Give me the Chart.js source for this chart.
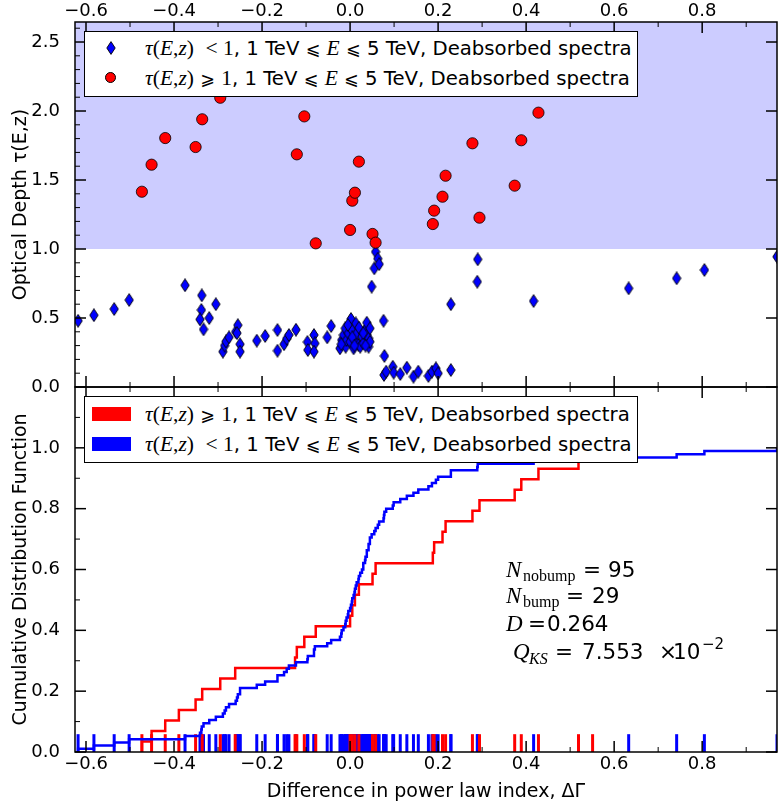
<!DOCTYPE html>
<html>
<head>
<meta charset="utf-8">
<script src="https://cdn.jsdelivr.net/npm/chart.js@4"></script>
<style>
body{margin:0;background:#fff;width:778px;height:808px;position:relative;overflow:hidden;font-family:"DejaVu Sans",sans-serif;color:#000;}
canvas.chart{position:absolute;left:0;}
#tauChart{top:0;}
#cdfChart{top:380px;}
.legend{position:absolute;left:84px;width:552px;background:#fff;border:1.5px solid #000;font-size:19.7px;white-space:nowrap;}
.legend .row{position:absolute;left:0;height:24px;line-height:24px;}
.legend .txt{position:absolute;left:60px;top:0;}
.m{font-family:"Liberation Serif",serif;font-style:italic;font-size:21.5px;}
.r{font-family:"Liberation Serif",serif;font-style:normal;font-size:21.5px;}
.sym{font-family:"DejaVu Sans",sans-serif;font-size:17.5px;}
.n{position:absolute;white-space:nowrap;line-height:1;}
.ns{font-family:"DejaVu Sans",sans-serif;font-size:21.5px;}
.nm{font-family:"Liberation Serif",serif;font-style:italic;font-size:23px;}
.nb{font-family:"Liberation Serif",serif;font-size:16px;}
</style>
</head>
<body>
<canvas id="tauChart" class="chart" width="778" height="400"></canvas>
<canvas id="cdfChart" class="chart" width="778" height="428"></canvas>
<div id="tauLegend" class="legend" style="top:31px;height:64px;"></div>
<div id="cdfLegend" class="legend" style="top:396px;height:65px;"></div>
<!-- KS test summary -->
<span class="n nm" style="left:506px;top:558px">N</span><span class="n nb" style="left:523px;top:568px">nobump</span><span class="n ns" style="left:583px;top:559px">=</span><span class="n ns" style="left:608px;top:559px">95</span>
<span class="n nm" style="left:506px;top:584px">N</span><span class="n nb" style="left:523px;top:594px">bump</span><span class="n ns" style="left:566px;top:585px">=</span><span class="n ns" style="left:592px;top:585px">29</span>
<span class="n nm" style="left:506px;top:612px">D</span><span class="n ns" style="left:528px;top:613px">=</span><span class="n ns" style="left:547px;top:613px">0.264</span>
<span class="n nm" style="left:513px;top:640px">Q</span><span class="n nb" style="left:529px;top:651px;font-style:italic">KS</span><span class="n ns" style="left:555px;top:641px">=</span><span class="n ns" style="left:582px;top:641px">7.553</span><span class="n ns" style="left:659px;top:641px">×</span><span class="n ns" style="left:673px;top:641px">10</span><span class="n ns" style="left:702px;top:637px;font-size:15px">−2</span>
<script>
/* ---------- DATA ---------- */
// tau(E,z) < 1 sources
const blueDeltaGamma=[-0.618,-0.582,-0.536,-0.502,-0.375,-0.337,-0.338,-0.341,-0.320,-0.333,-0.305,
  -0.289,-0.285,-0.282,-0.275,-0.260,-0.255,-0.257,-0.250,-0.250,
  -0.212,-0.193,-0.165,-0.165,-0.150,-0.144,-0.139,-0.123,-0.097,-0.096,-0.082,-0.080,-0.082,-0.052,-0.043,
  -0.023,-0.019,-0.015,-0.011,-0.010,-0.008,-0.004,0.000,0.002,0.004,0.008,0.011,0.013,0.015,0.019,0.023,
  0.027,0.030,0.034,0.038,0.038,0.042,0.042,0.045,0.045,-0.020,-0.005,0.005,0.020,0.030,0.010,0.035,
  0.049,0.055,0.058,0.063,0.066,0.076,0.078,
  0.077,0.082,0.097,0.099,0.114,0.129,0.144,0.155,0.178,0.186,0.195,0.200,0.229,
  0.229,0.289,0.290,0.417,0.633,0.742,0.805,0.970];
const blueTau=[0.48,0.52,0.565,0.63,0.737,0.664,0.558,0.49,0.50,0.418,0.60,
  0.256,0.30,0.33,0.36,0.40,0.448,0.39,0.31,0.256,
  0.336,0.37,0.413,0.263,0.31,0.35,0.377,0.415,0.326,0.268,0.377,0.316,0.256,0.36,0.442,
  0.28,0.34,0.377,0.425,0.292,0.34,0.389,0.328,0.493,0.413,0.28,0.34,0.461,0.389,0.304,0.292,
  0.365,0.316,0.413,0.466,0.377,0.292,0.353,0.425,0.328,0.31,0.45,0.36,0.43,0.39,0.30,0.30,
  0.727,0.86,0.98,0.93,0.89,0.48,0.225,
  0.087,0.111,0.147,0.104,0.094,0.14,0.075,0.111,0.08,0.111,0.135,0.099,0.123,
  0.60,0.763,0.925,0.623,0.715,0.788,0.848,0.944];
// tau(E,z) >= 1 sources
const redDeltaGamma=[-0.473,-0.451,-0.420,-0.389,-0.351,-0.336,-0.295,-0.261,-0.125,-0.121,-0.104,-0.078,
  0.000,0.005,0.011,0.020,0.051,0.058,0.188,0.191,0.210,0.217,0.278,0.294,0.374,0.389,0.428,0.519,0.551];
const redTau=[1.415,1.611,1.804,2.30,1.739,1.94,2.096,2.42,2.25,1.686,1.961,1.041,
  1.138,1.35,1.408,1.633,1.109,1.046,1.181,1.278,1.379,1.531,1.766,1.227,1.459,1.788,1.988,2.35,2.20];

const xMajorTicks=[-0.6,-0.4,-0.2,0.0,0.2,0.4,0.6,0.8];
const xMinorTicks=[-0.5,-0.3,-0.1,0.1,0.3,0.5,0.7,0.9];
const tauMajorTicks=[0.0,0.5,1.0,1.5,2.0,2.5];
const tauMinorTicks=[0.1,0.2,0.3,0.4,0.6,0.7,0.8,0.9,1.1,1.2,1.3,1.4,1.6,1.7,1.8,1.9,2.1,2.2,2.3,2.4,2.6];
const cdfMajorTicks=[0.0,0.2,0.4,0.6,0.8,1.0];
const cdfMinorTicks=[0.1,0.3,0.5,0.7,0.9,1.1];

const X_MIN=-0.625, X_MAX=0.97, TAU_MAX=2.645, CDF_MAX=1.2, TAU_CUT=1.0, RUG_MID=0.029;

/* ---------- HELPERS ---------- */
Chart.defaults.font.family='"DejaVu Sans", sans-serif';
Chart.defaults.font.size=18;
Chart.defaults.color='#000';
Chart.defaults.animation=false;

const fmt=v=>(v<0?'\u2212':'')+Math.abs(v).toFixed(1);
const pts=(xs,ys)=>xs.map((x,i)=>({x,y:ys[i]}));
function ecdf(values){const s=[...values].sort((a,b)=>a-b);const n=s.length;
  return [{x:s[0],y:0}].concat(s.map((v,i)=>({x:v,y:(i+1)/n})));}
function makeDiamond(){const c=document.createElement('canvas');c.width=10;c.height=14;
  const g=c.getContext('2d');g.beginPath();g.moveTo(5,0.6);g.lineTo(9.2,7);g.lineTo(5,13.4);g.lineTo(0.8,7);g.closePath();
  g.fillStyle='#0000ff';g.fill();g.lineWidth=0.9;g.strokeStyle='#000';g.stroke();return c;}

// shaded tau >= 1 band
const tauBand={id:'tauBand',beforeDatasetsDraw(chart,args,o){
  if(o.from===undefined)return;const {ctx,chartArea:a,scales:{y}}=chart;const p=y.getPixelForValue(o.from);
  ctx.save();ctx.fillStyle=o.color;ctx.fillRect(a.left,a.top,a.width,p-a.top);ctx.restore();}};

// matplotlib style frame with inward ticks
const frameTicks={id:'frameTicks',afterDatasetsDraw(chart,args,o){
  const {ctx,chartArea:a,scales:{x,y}}=chart;ctx.save();ctx.strokeStyle='#000';
  const t=(px,py,dx,dy,w)=>{ctx.lineWidth=w;ctx.beginPath();ctx.moveTo(px,py);ctx.lineTo(px+dx,py+dy);ctx.stroke();};
  o.xMajor.forEach(v=>{const p=x.getPixelForValue(v);t(p,a.top,0,11,1.5);t(p,a.bottom,0,-11,1.5);});
  o.xMinor.forEach(v=>{const p=x.getPixelForValue(v);if(p>a.right)return;t(p,a.top,0,5,1);t(p,a.bottom,0,-5,1);});
  o.yMajor.forEach(v=>{const p=y.getPixelForValue(v);t(a.left,p,11,0,1.5);t(a.right,p,-11,0,1.5);});
  o.yMinor.forEach(v=>{const p=y.getPixelForValue(v);if(p<a.top)return;t(a.left,p,5,0,1);});
  ctx.lineWidth=1.5;ctx.strokeRect(a.left,a.top,a.width,a.height);ctx.restore();}};

function xAxis(position,height,pad,title){return{type:'linear',position,min:X_MIN,max:X_MAX,
  grid:{display:false},border:{display:false},
  afterFit:s=>{s.height=height;s.paddingLeft=0;s.paddingRight=0;},
  afterBuildTicks:s=>{s.ticks=xMajorTicks.map(v=>({value:v}));},
  ticks:{padding:pad,maxRotation:0,autoSkip:false,callback:v=>fmt(v)},
  title:title?{display:true,text:title,font:{size:19},padding:{top:0,bottom:5}}:{display:false}};}
function yAxis(max,ticks,title){return{type:'linear',position:'left',min:0,max,
  grid:{display:false},border:{display:false},
  afterFit:s=>{s.width=75;s.paddingTop=0;s.paddingBottom=0;},
  afterBuildTicks:s=>{s.ticks=ticks.map(v=>({value:v}));},
  ticks:{padding:7,autoSkip:false,callback:v=>v.toFixed(1)},
  title:{display:true,text:title,font:{size:19},padding:{top:10,bottom:0}}};}

/* ---------- TOP PANEL ---------- */
new Chart(document.getElementById('tauChart'),{type:'scatter',
  data:{datasets:[
    {label:'tau<1',data:pts(blueDeltaGamma,blueTau),pointStyle:makeDiamond(),pointRadius:6,order:1},
    {label:'tau>=1',data:pts(redDeltaGamma,redTau),pointStyle:'circle',pointRadius:5.6,
      backgroundColor:'#ff0000',borderColor:'#000',borderWidth:0.8,order:0}]},
  options:{responsive:false,events:[],layout:{autoPadding:false,padding:{top:0,right:1,bottom:13,left:0}},
    scales:{x:xAxis('top',22,-8),y:yAxis(TAU_MAX,tauMajorTicks,'Optical Depth \u03c4(E,z)')},
    plugins:{legend:{display:false},tooltip:{enabled:false},
      tauBand:{from:TAU_CUT,color:'#ccccff'},
      frameTicks:{xMajor:xMajorTicks,xMinor:xMinorTicks,yMajor:tauMajorTicks,yMinor:tauMinorTicks}}},
  plugins:[tauBand,frameTicks]});

/* ---------- BOTTOM PANEL ---------- */
new Chart(document.getElementById('cdfChart'),{type:'scatter',
  data:{datasets:[
    {label:'cdf blue',data:ecdf(blueDeltaGamma),showLine:true,stepped:'before',borderColor:'#0000ff',borderWidth:2.5,pointRadius:0,order:0},
    {label:'cdf red',data:ecdf(redDeltaGamma),showLine:true,stepped:'before',borderColor:'#ff0000',borderWidth:2.5,pointRadius:0,order:1},
    {label:'rug red',data:redDeltaGamma.map(x=>({x,y:RUG_MID})),pointStyle:'line',rotation:90,pointRadius:9,borderColor:'#ff0000',borderWidth:3,order:2},
    {label:'rug blue',data:blueDeltaGamma.map(x=>({x,y:RUG_MID})),pointStyle:'line',rotation:90,pointRadius:9,borderColor:'#0000ff',borderWidth:3,order:3}]},
  options:{responsive:false,events:[],layout:{autoPadding:false,padding:{top:7,right:1,bottom:0,left:0}},
    scales:{x:xAxis('bottom',56,-6,'Difference in power law index, \u0394\u0393'),
      y:yAxis(CDF_MAX,cdfMajorTicks,'Cumulative Distribution Function')},
    plugins:{legend:{display:false},tooltip:{enabled:false},
      frameTicks:{xMajor:xMajorTicks,xMinor:xMinorTicks,yMajor:cdfMajorTicks,yMinor:cdfMinorTicks}}},
  plugins:[frameTicks]});

/* ---------- LEGENDS ---------- */
const tauLt='<span class="m">\u03c4</span><span class="r">(</span><span class="m">E</span><span class="r">,</span><span class="m">z</span><span class="r">)</span>';
const energy=', 1 TeV <span class="sym">\u2a7d</span> <span class="m">E</span> <span class="sym">\u2a7d</span> 5 TeV, Deabsorbed spectra';
const lowLabel=tauLt+' <span class="r">&nbsp;&lt; 1</span>'+energy;
const highLabel=tauLt+' <span class="sym">\u2a7e</span> <span class="r">1</span>'+energy;

const tl=document.getElementById('tauLegend');
tl.innerHTML=`<div class="row" style="top:4px;width:100%"><span class="txt">${lowLabel}</span></div>
<div class="row" style="top:34px;width:100%"><div style="position:absolute;left:20px;top:6px;width:11px;height:11px;border-radius:50%;background:#ff0000;border:0.8px solid #000;box-sizing:border-box"></div><span class="txt">${highLabel}</span></div>`;
const dm=makeDiamond();dm.style.cssText='position:absolute;left:21px;top:5px;';tl.firstElementChild.appendChild(dm);

const cl=document.getElementById('cdfLegend');
cl.innerHTML=`<div class="row" style="top:5px;width:100%"><div style="position:absolute;left:7px;top:5px;width:39px;height:14px;background:#ff0000"></div><span class="txt">${highLabel}</span></div>
<div class="row" style="top:35px;width:100%"><div style="position:absolute;left:7px;top:5px;width:39px;height:14px;background:#0000ff"></div><span class="txt">${lowLabel}</span></div>`;
</script>
</body>
</html>
